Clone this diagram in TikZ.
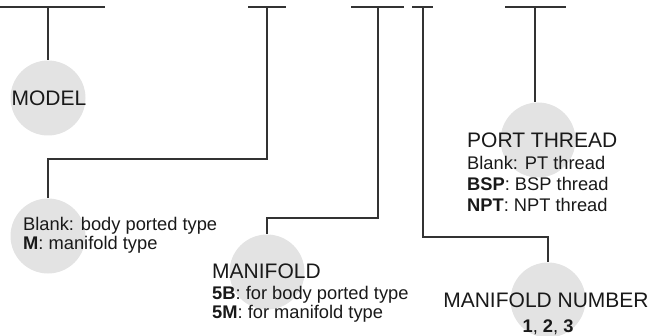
\documentclass[tikz,border=0pt]{standalone}
\usepackage{fontspec}
\setmainfont{Liberation Sans}
\usepackage{tikz}

\begin{document}
\begin{tikzpicture}[x=1pt,y=-1pt,
	line/.style={draw=black!80,line width=1.2pt},
	dot/.style={circle,fill=black!11,minimum size=75pt,inner sep=0pt},
	title/.style={inner sep=0pt,font=\fontsize{21}{23}\selectfont,text=black!90},
	info/.style={inner sep=0pt,align=left,font=\fontsize{18.3}{19}\selectfont,text=black!90}]
	\useasboundingbox (0,0) rectangle (652,336);
	% circles
	\node[dot] (c1) at (48,98) {};
	\node[dot] (c2) at (48,236) {};
	\node[dot] (c3) at (267,272) {};
	\node[dot] (c4) at (548,300) {};
	\node[dot] (c5) at (538,140) {};
	% top bars
	\coordinate (t1) at (48,7);
	\coordinate (t2) at (267,7);
	\coordinate (t3) at (378,7);
	\coordinate (t4) at (423,7);
	\coordinate (t5) at (535,7);
	\draw[line] (0,7)--(105,7);
	\draw[line] (248,7)--(286,7);
	\draw[line] (351,7)--(404,7);
	\draw[line] (412,7)--(433,7);
	\draw[line] (505,7)--(566,7);
	% connectors
	\draw[line] (t1)--(c1.north);
	\draw[line] (t2)--(267,159)--(48,159)--(c2.north);
	\draw[line] (t3)--(378,218)--(267,218)--(c3.north);
	\draw[line] (t4)--(423,237)--(548,237)--(c4.north);
	\draw[line] (t5)--(t5 |- c5.north);
	% labels
	\node[title] (model) at (49,98) {MODEL};
	\node[info,anchor=west] (body) at (23,235) {Blank: body ported type\\\textbf{M}: manifold type};
	\node[title,anchor=west] (manif) at (212,271) {MANIFOLD};
	\node[info,anchor=west] (manifinfo) at (212,304) {\textbf{5B}: for body ported type\\\textbf{5M}: for manifold type};
	\node[title,anchor=west] (port) at (467,140) {PORT THREAD};
	\node[info,anchor=west,font=\fontsize{18.3}{21}\selectfont] (portinfo) at (467,184) {Blank: PT thread\\\textbf{BSP}: BSP thread\\\textbf{NPT}: NPT thread};
	\node[title] (number) at (546,300) {MANIFOLD NUMBER};
	\node[info] (numinfo) at (548,327) {\textbf{1}, \textbf{2}, \textbf{3}};
\end{tikzpicture}
\end{document}
